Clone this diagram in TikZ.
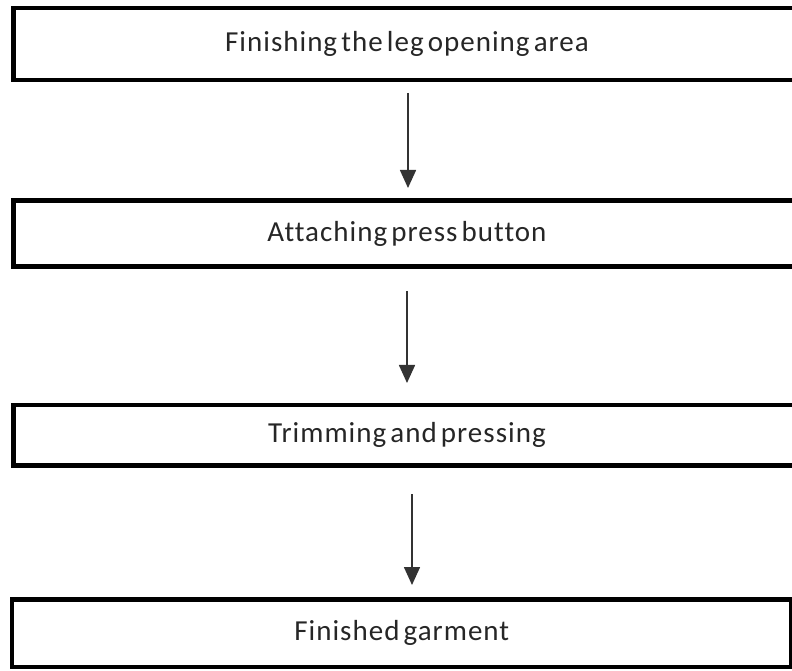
\documentclass[tikz,border=0pt]{standalone}
\usepackage{fontspec}
\setmainfont{Carlito}[WordSpace=0.55, LetterSpace=3.5, Ligatures=NoCommon]
\usetikzlibrary{arrows.meta}
\begin{document}
\begin{tikzpicture}[x=1pt,y=1pt,
  box/.style={draw=black, line width=4.5pt, inner sep=0pt, outer sep=0pt, anchor=north west,
    font=\fontsize{29}{34}\selectfont, text=black!85},
  flow/.style={draw=black!80, line width=1.6pt, -{Triangle[width=16pt,length=18pt]}}]
\useasboundingbox (0,0) rectangle (792,670);
\node[box, minimum width=787pt, minimum height=72pt] (b1) at (13.5,662) {Finishing the leg opening area};
\node[box, minimum width=787pt, minimum height=66pt] (b2) at (13.5,469.5) {Attaching press button};
\node[box, minimum width=787pt, minimum height=60.5pt] (b3) at (13.5,265) {Trimming and pressing};
\node[box, minimum width=779.5pt, minimum height=67.5pt] (b4) at (12,70.5) {Finished garment};
\draw[flow, shorten <=13pt, shorten >=12.5pt] ([xshift=1pt]b1.south) -- ([xshift=1pt]b2.north);
\draw[flow, shorten <=24.5pt, shorten >=22pt] (b2.south) -- (b3.north);
\draw[flow, shorten <=28.5pt, shorten >=14.5pt] ([xshift=5pt]b3.south) -- ([xshift=10.25pt]b4.north);
\end{tikzpicture}
\end{document}
